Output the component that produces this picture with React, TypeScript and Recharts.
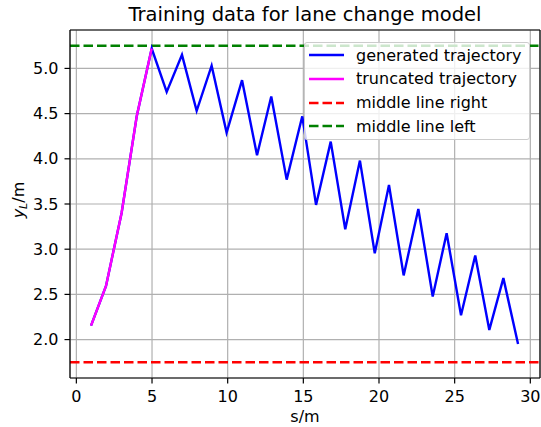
import React from "react";
import {
  CartesianGrid,
  Label,
  Line,
  LineChart,
  ReferenceLine,
  XAxis,
  YAxis,
} from "recharts";

// s positions and lateral offsets
const truncS = [0.97, 1.96, 2.99, 3.99, 4.98];
const truncY = [2.155, 2.594, 3.4, 4.47, 5.22];

const genS = [
  0.97, 1.96, 2.99, 3.99, 4.98, 5.97, 6.98, 7.95, 8.94, 9.93, 10.95, 11.94,
  12.88, 13.9, 14.93, 15.84, 16.81, 17.77, 18.74, 19.72, 20.66, 21.63, 22.6,
  23.55, 24.47, 25.42, 26.36, 27.29, 28.22, 29.19,
];
const genY = [
  2.155, 2.594, 3.4, 4.47, 5.22, 4.74, 5.15, 4.53, 5.03, 4.29, 4.87, 4.04,
  4.69, 3.77, 4.47, 3.49, 4.19, 3.22, 3.98, 2.955, 3.71, 2.71, 3.445, 2.476,
  3.177, 2.27, 2.93, 2.107, 2.68, 1.95,
];

const middleRight = 1.75;
const middleLeft = 5.25;

const xTicks = [0, 5, 10, 15, 20, 25, 30];
const yTicks = [2.0, 2.5, 3.0, 3.5, 4.0, 4.5, 5.0];
const xDomain = [-0.42, 30.64];
const yDomain = [1.575, 5.425];

const legendItems = [
  { name: "generated trajectory", color: "#0000ff", dashed: false },
  { name: "truncated trajectory", color: "#ff00ff", dashed: false },
  { name: "middle line right", color: "#ff0000", dashed: true },
  { name: "middle line left", color: "#008000", dashed: true },
];

const FONT = "DejaVu Sans, sans-serif";
const FS = 16;
const LW = 2.4;
const DASH = "9.5 4";

const toPoints = (s: number[], y: number[]) =>
  s.map((v, i) => ({ s: v, y: y[i] }));

const generated = toPoints(genS, genY);
const truncated = toPoints(truncS, truncY);

function XLabel(props: any) {
  const vb = props.viewBox || {};
  const cx = vb.x + vb.width / 2;
  return (
    <text
      x={cx}
      y={422}
      textAnchor="middle"
      fontFamily={FONT}
      fontSize={FS}
      fill="#000"
    >
      s/m
    </text>
  );
}

function YLabel(props: any) {
  const vb = props.viewBox || {};
  const cy = vb.y + vb.height / 2 - 4;
  return (
    <text
      x={24}
      y={cy}
      transform={`rotate(-90, 24, ${cy})`}
      textAnchor="middle"
      fontFamily={FONT}
      fontSize={FS}
      fill="#000"
    >
      <tspan fontStyle="italic">y</tspan>
      <tspan fontStyle="italic" fontSize={11.2} dy={3}>
        L
      </tspan>
      <tspan dy={-3}>/m</tspan>
    </text>
  );
}

function LegendBox() {
  return (
    <div
      style={{
        position: "absolute",
        left: 304,
        top: 42,
        width: 224,
        height: 96,
        border: "1px solid #cccccc",
        borderRadius: 3,
        background: "rgba(255,255,255,0.8)",
        fontFamily: FONT,
        fontSize: FS,
        color: "#000",
      }}
    >
      {legendItems.map((it, i) => (
        <div
          key={it.name}
          style={{
            position: "absolute",
            left: 4,
            top: 0.5 + i * 23.8,
            height: 23,
            display: "flex",
            alignItems: "center",
            whiteSpace: "nowrap",
          }}
        >
          <svg width={35} height={10} style={{ marginRight: 12 }}>
            <line
              x1={0}
              y1={5}
              x2={35}
              y2={5}
              stroke={it.color}
              strokeWidth={LW}
              strokeDasharray={it.dashed ? DASH : undefined}
            />
          </svg>
          <span>{it.name}</span>
        </div>
      ))}
    </div>
  );
}

export default function App() {
  return (
    <div
      style={{
        position: "absolute",
        left: 0,
        top: 0,
        width: 541,
        height: 427,
        background: "#fff",
      }}
    >
      <div
        style={{
          position: "absolute",
          left: 70,
          width: 470,
          top: 3,
          textAlign: "center",
          fontFamily: FONT,
          fontSize: 19.5,
          color: "#000",
        }}
      >
        Training data for lane change model
      </div>
      <LineChart
        width={541}
        height={427}
        margin={{ top: 30, right: 1, left: 0, bottom: 0 }}
      >
        <CartesianGrid stroke="#b0b0b0" strokeWidth={1.2} />
        <XAxis
          type="number"
          dataKey="s"
          domain={xDomain}
          allowDataOverflow
          ticks={xTicks}
          height={49}
          tickSize={5.5}
          tickMargin={7}
          stroke="#000"
          strokeWidth={1.2}
          tick={{ fill: "#000", fontSize: FS, fontFamily: FONT }}
        >
          <Label content={<XLabel />} />
        </XAxis>
        <YAxis
          type="number"
          domain={yDomain}
          allowDataOverflow
          ticks={yTicks}
          width={70}
          tickSize={5.5}
          tickMargin={6}
          stroke="#000"
          strokeWidth={1.2}
          tickFormatter={(v: number) => v.toFixed(1)}
          tick={{ fill: "#000", fontSize: FS, fontFamily: FONT }}
        >
          <Label content={<YLabel />} />
        </YAxis>
        <ReferenceLine
          y={middleRight}
          stroke="#ff0000"
          strokeWidth={LW}
          strokeDasharray={DASH}
        />
        <ReferenceLine
          y={middleLeft}
          stroke="#008000"
          strokeWidth={LW}
          strokeDasharray={DASH}
        />
        <Line
          data={generated}
          dataKey="y"
          stroke="#0000ff"
          strokeWidth={LW}
          dot={false}
          activeDot={false}
          isAnimationActive={false}
        />
        <Line
          data={truncated}
          dataKey="y"
          stroke="#ff00ff"
          strokeWidth={LW}
          dot={false}
          activeDot={false}
          isAnimationActive={false}
        />
        <ReferenceLine y={yDomain[1]} stroke="#000" strokeWidth={1.2} />
        <ReferenceLine x={xDomain[1]} stroke="#000" strokeWidth={1.2} />
      </LineChart>
      <LegendBox />
    </div>
  );
}
